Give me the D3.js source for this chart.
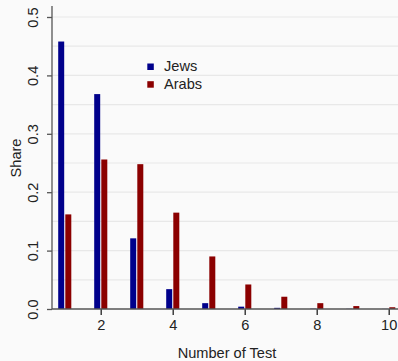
<!DOCTYPE html>
<html>
<head>
<meta charset="utf-8">
<script src="https://cdn.jsdelivr.net/npm/d3@7"></script>
<style>
  html, body { margin: 0; padding: 0; background: #fafafa; }
  svg { display: block; }
  text { font-family: "Liberation Sans", Arial, sans-serif; fill: #222; }
</style>
</head>
<body>
<svg id="chart" width="398" height="361"></svg>
<script>
const tests = [1, 2, 3, 4, 5, 6, 7, 8, 9, 10];
const jews  = [0.458, 0.368, 0.121, 0.034, 0.010, 0.004, 0.002, 0.0005, 0.0003, 0.0002];
const arabs = [0.162, 0.256, 0.248, 0.165, 0.090, 0.042, 0.021, 0.010, 0.005, 0.003];
const seriesNames = ["Jews", "Arabs"];
const seriesColors = ["#00008b", "#8b0000"];
const xTicks = [2, 4, 6, 8, 10];
const yTicks = [0.0, 0.1, 0.2, 0.3, 0.4, 0.5];
const gridVals = [0.05, 0.1, 0.15, 0.2, 0.25, 0.3, 0.35, 0.4, 0.45, 0.5];

const FS = 14.6;
const svg = d3.select("#chart");
const x = d3.scaleLinear().domain([1, 10]).range([64.7, 388.7]);
const y = d3.scaleLinear().domain([0, 0.5]).range([309, 17]);
const axisX = 52;

// background
svg.append("rect").attr("width", 398).attr("height", 361).attr("fill", "#fafafa");

// gridlines
svg.append("g").selectAll("line").data(gridVals).join("line")
  .attr("x1", axisX).attr("x2", 398)
  .attr("y1", d => y(d)).attr("y2", d => y(d))
  .attr("stroke", "#e8e8e8").attr("stroke-width", 1.2);

// bars
const barW = 6;
const data = tests.map((t, i) => ({t, j: jews[i], a: arabs[i]}));
svg.append("g").selectAll("rect").data(data).join("rect")
  .attr("x", d => x(d.t) - 6.5).attr("width", barW)
  .attr("y", d => y(d.j)).attr("height", d => y(0) - y(d.j))
  .attr("fill", seriesColors[0]);
svg.append("g").selectAll("rect").data(data).join("rect")
  .attr("x", d => x(d.t) + 0.6).attr("width", barW)
  .attr("y", d => y(d.a)).attr("height", d => y(0) - y(d.a))
  .attr("fill", seriesColors[1]);

// x axis
const gx = svg.append("g").attr("transform", `translate(0,${y(0)})`)
  .call(d3.axisBottom(x).tickValues(xTicks).tickFormat(d3.format("d")).tickSizeOuter(0).tickSize(6).tickPadding(5));
gx.select(".domain").remove();
gx.append("line").attr("x1", axisX).attr("x2", 398).attr("y1", 0).attr("y2", 0)
  .attr("stroke", "#555").attr("stroke-width", 1.3);
gx.selectAll(".tick line").attr("stroke", "#222").attr("stroke-width", 1.3);
gx.selectAll(".tick text").attr("font-size", FS).attr("fill", "#222")
  .attr("font-family", "Liberation Sans, Arial, sans-serif");

// y axis
const gy = svg.append("g").attr("transform", `translate(${axisX},0)`)
  .call(d3.axisLeft(y).tickValues(yTicks).tickFormat(d3.format(".1f")).tickSizeOuter(0).tickSize(5));
gy.select(".domain").remove();
gy.append("line").attr("x1", 0).attr("x2", 0).attr("y1", 6).attr("y2", y(0))
  .attr("stroke", "#555").attr("stroke-width", 1.3);
gy.selectAll(".tick line").attr("stroke", "#555").attr("stroke-width", 1.3);
gy.selectAll(".tick text")
  .attr("font-size", FS).attr("fill", "#222")
  .attr("font-family", "Liberation Sans, Arial, sans-serif")
  .attr("x", null).attr("dy", null)
  .attr("text-anchor", "middle")
  .attr("transform", "translate(-14.5,0) rotate(-90)");

// axis titles
svg.append("text").attr("x", 227).attr("y", 358).attr("text-anchor", "middle")
  .attr("font-size", FS).text("Number of Test");
svg.append("text").attr("transform", "translate(21,158) rotate(-90)")
  .attr("text-anchor", "middle").attr("font-size", FS).text("Share");

// legend
const leg = svg.append("g");
seriesNames.forEach((n, i) => {
  const yy = 63.5 + i * 17.7;
  leg.append("rect").attr("x", 147.3).attr("y", yy).attr("width", 6.5).attr("height", 6.5)
    .attr("fill", seriesColors[i]);
  leg.append("text").attr("x", 164).attr("y", yy + 7.5).attr("font-size", FS).text(n);
});
</script>
</body>
</html>
